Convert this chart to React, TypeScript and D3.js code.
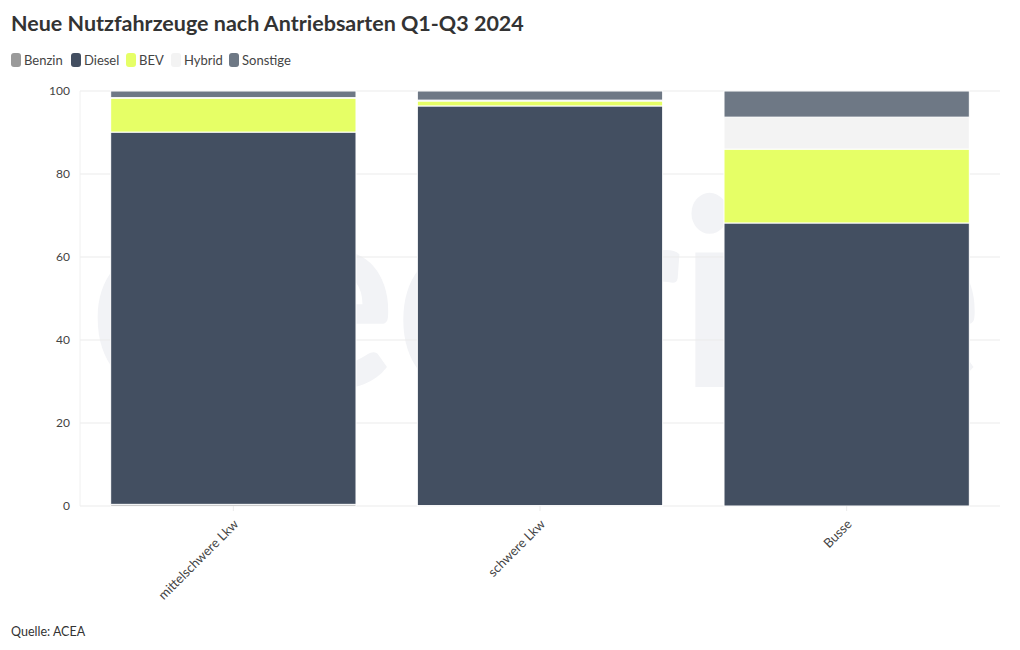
import React, { useEffect, useRef } from 'react'
import * as d3 from 'd3'

// Anteile in Prozent
const categories = ['mittelschwere Lkw', 'schwere Lkw', 'Busse']
const seriesNames = ['Benzin', 'Diesel', 'BEV', 'Hybrid', 'Sonstige']
const benzin = [0.4, 0.1, 0.0]
const diesel = [89.7, 96.3, 68.2]
const bev = [8.2, 1.2, 17.8]
const hybrid = [0.1, 0.2, 7.7]
const sonstige = [1.6, 2.2, 6.3]
const yTicks = [0, 20, 40, 60, 80, 100]

const colors = ['#9a9a9a', '#434f61', '#e6ff66', '#f3f3f3', '#6e7885']

const FONT = 'Lato, "Noto Sans", sans-serif'

const App = () => {
  const ref = useRef<SVGSVGElement | null>(null)

  useEffect(() => {
    const width = 1020
    const height = 650
    const margin = { top: 91, right: 20, bottom: 144, left: 80 }

    const svg = d3.select(ref.current)
    svg.selectAll('*').remove()

    const rows = categories.map((c, i) => ({
      cat: c,
      Benzin: benzin[i],
      Diesel: diesel[i],
      BEV: bev[i],
      Hybrid: hybrid[i],
      Sonstige: sonstige[i],
    }))

    const x = d3
      .scaleBand()
      .domain(categories)
      .range([margin.left, width - margin.right])
      .paddingInner(0.2)
      .paddingOuter(0.1)

    const y = d3
      .scaleLinear()
      .domain([0, 100])
      .range([height - margin.bottom, margin.top])

    const color = d3.scaleOrdinal<string, string>().domain(seriesNames).range(colors)

    // Title
    svg
      .append('text')
      .attr('x', 11)
      .attr('y', 31)
      .text('Neue Nutzfahrzeuge nach Antriebsarten Q1-Q3 2024')
      .style('font-family', FONT)
      .style('font-size', '21.5px')
      .style('font-weight', 'bold')
      .style('fill', '#333')

    // Legend
    const legendX = [11, 71, 126, 171, 229]
    const legend = svg
      .selectAll('g.legend')
      .data(seriesNames)
      .enter()
      .append('g')
      .attr('transform', (d, i) => `translate(${legendX[i]},53)`)
    legend
      .append('rect')
      .attr('width', 10)
      .attr('height', 14)
      .attr('rx', 3)
      .attr('fill', (d) => color(d))
    legend
      .append('text')
      .attr('x', 13)
      .attr('y', 12)
      .text((d) => d)
      .style('font-family', FONT)
      .style('font-size', '13px')
      .style('fill', '#444')

    // Watermark (hinter den Balken)
    svg
      .append('text')
      .attr('x', 90)
      .attr('y', 387)
      .attr('textLength', 892)
      .attr('lengthAdjust', 'spacingAndGlyphs')
      .text('electrive')
      .style('font-family', FONT)
      .style('font-size', '262px')
      .style('font-weight', 'bold')
      .style('fill', '#f2f3f6')
      .style('pointer-events', 'none')

    // Gridlines
    svg
      .selectAll('line.grid')
      .data(yTicks)
      .enter()
      .append('line')
      .attr('x1', margin.left)
      .attr('x2', width - margin.right)
      .attr('y1', (d) => y(d))
      .attr('y2', (d) => y(d))
      .attr('stroke', '#ebebeb')
      .attr('stroke-width', 1)
    svg
      .append('line')
      .attr('x1', margin.left)
      .attr('x2', margin.left)
      .attr('y1', y(100))
      .attr('y2', y(0))
      .attr('stroke', '#f0f0f0')

    // Y tick labels
    svg
      .selectAll('text.ytick')
      .data(yTicks)
      .enter()
      .append('text')
      .attr('x', 70)
      .attr('y', (d) => y(d) + 4)
      .attr('text-anchor', 'end')
      .text((d) => d)
      .style('font-family', FONT)
      .style('font-size', '12px')
      .style('fill', '#444')

    // Stacked bars
    const stacked = d3.stack<any>().keys(seriesNames)(rows)
    svg
      .append('g')
      .selectAll('g')
      .data(stacked)
      .enter()
      .append('g')
      .attr('fill', (d) => color(d.key))
      .selectAll('rect')
      .data((d) => d)
      .enter()
      .append('rect')
      .attr('x', (d) => x(d.data.cat) as number)
      .attr('width', x.bandwidth())
      .attr('y', (d) => y(d[1]))
      .attr('height', (d) => Math.max(0, y(d[0]) - y(d[1])))
      .attr('stroke', '#fff')
      .attr('stroke-width', 1)

    // X ticks and labels
    svg
      .selectAll('line.xtick')
      .data(categories)
      .enter()
      .append('line')
      .attr('x1', (d) => (x(d) as number) + x.bandwidth() / 2)
      .attr('x2', (d) => (x(d) as number) + x.bandwidth() / 2)
      .attr('y1', y(0))
      .attr('y2', y(0) + 5)
      .attr('stroke', '#ebebeb')
    svg
      .selectAll('text.xlabel')
      .data(categories)
      .enter()
      .append('text')
      .attr('text-anchor', 'end')
      .attr(
        'transform',
        (d) => `translate(${(x(d) as number) + x.bandwidth() / 2 + 6},${y(0) + 19}) rotate(-45)`
      )
      .text((d) => d)
      .style('font-family', FONT)
      .style('font-size', '13px')
      .style('fill', '#444')

    // Source
    svg
      .append('text')
      .attr('x', 11)
      .attr('y', 636)
      .text('Quelle: ACEA')
      .style('font-family', FONT)
      .style('font-size', '12.5px')
      .style('fill', '#333')
  }, [])

  return (
    <svg
      ref={ref}
      width={1020}
      height={650}
      style={{ position: 'absolute', left: 0, top: 0, background: '#fff' }}
    />
  )
}

export default App
